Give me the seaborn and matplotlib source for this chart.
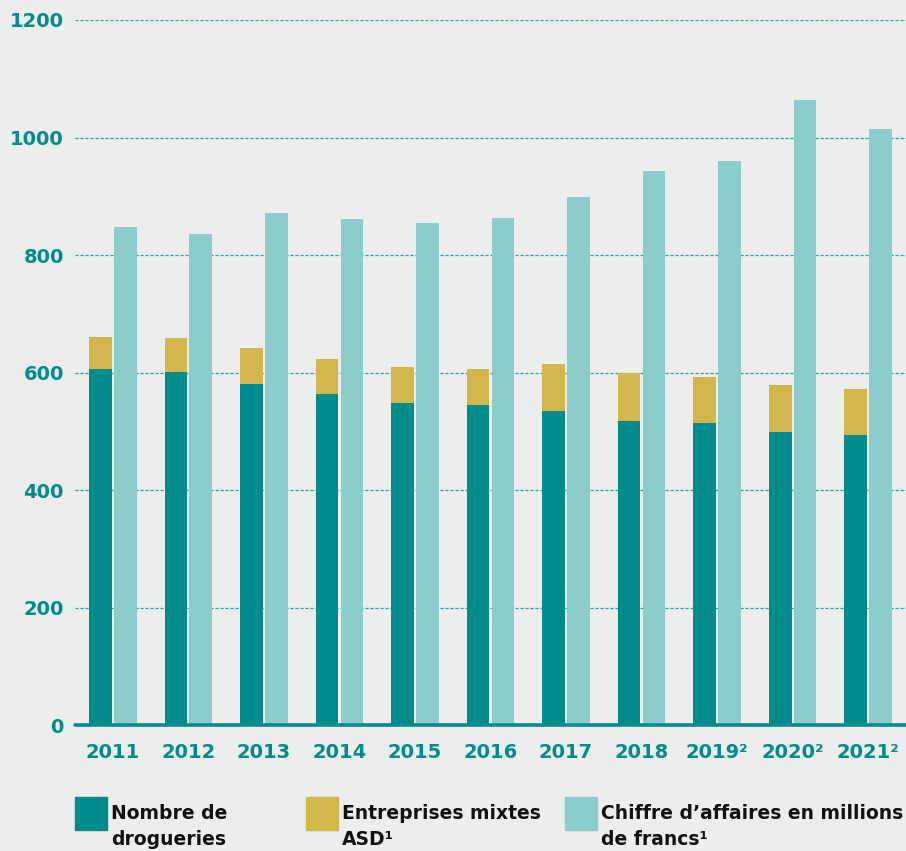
import pandas as pd
import seaborn as sns
import matplotlib.pyplot as plt
from matplotlib.patches import Rectangle

# values
annees = ["2011", "2012", "2013", "2014", "2015", "2016", "2017", "2018",
          "2019²", "2020²", "2021²"]
drogueries = [606, 601, 580, 563, 548, 545, 534, 517, 514, 499, 494]
mixtes_asd = [54, 58, 62, 60, 61, 61, 80, 82, 78, 80, 78]
chiffre_affaires = [848, 836, 871, 861, 854, 863, 899, 943, 960, 1064, 1014]

TEAL = "#008c8d"
JAUNE = "#d4b74b"
CLAIR = "#8bcdcd"
FOND = "#eceded"

totaux = [d + m for d, m in zip(drogueries, mixtes_asd)]

df_haut = pd.DataFrame({
    "annee": annees * 2,
    "serie": ["drog"] * len(annees) + ["ca"] * len(annees),
    "valeur": totaux + chiffre_affaires,
})
df_bas = pd.DataFrame({"annee": annees, "serie": ["drog"] * len(annees), "valeur": drogueries})

sns.set_style("white")
plt.rcParams["font.family"] = ["DejaVu Sans"]

fig = plt.figure(figsize=(9.06, 8.51), dpi=100, facecolor=FOND)
ax = fig.add_axes([0.0828, 0.148, 0.9172, 0.8285])
ax.set_facecolor(FOND)

for y in range(200, 1201, 200):
    ax.axhline(y, color="#2a9fa1", lw=0.9, ls=(0, (2.5, 1.5)), zorder=0)

sns.barplot(data=df_haut, x="annee", y="valeur", hue="serie", hue_order=["drog", "ca"],
            palette={"drog": JAUNE, "ca": CLAIR}, width=0.66, gap=0.09, dodge=True,
            saturation=1, legend=False, ax=ax, zorder=2, errorbar=None, linewidth=0)
sns.barplot(data=df_bas, x="annee", y="valeur", hue="serie", hue_order=["drog", "ca"],
            palette={"drog": TEAL, "ca": CLAIR}, width=0.66, gap=0.09, dodge=True,
            saturation=1, legend=False, ax=ax, zorder=3, errorbar=None, linewidth=0)

ax.axhline(0, color=TEAL, lw=2.6, zorder=4, clip_on=False)
ax.set_xlim(-0.5, len(annees) - 0.5)
ax.set_ylim(0, 1200)
ax.set_yticks(range(0, 1201, 200))
ax.set_xlabel("")
ax.set_ylabel("")
for s in ax.spines.values():
    s.set_visible(False)
ax.tick_params(axis="both", length=0, labelsize=14, labelcolor=TEAL)
ax.tick_params(axis="y", pad=8)
ax.tick_params(axis="x", pad=13)
for lab in ax.get_xticklabels() + ax.get_yticklabels():
    lab.set_fontweight("bold")

# legende
legende = [(75, TEAL, "Nombre de\ndrogueries"),
           (306, JAUNE, "Entreprises mixtes\nASD¹"),
           (565, CLAIR, "Chiffre d’affaires en millions\nde francs¹")]
W, H = 906, 851
for x0, c, txt in legende:
    fig.add_artist(Rectangle((x0 / W, 1 - 830 / H), 32 / W, 33 / H,
                             transform=fig.transFigure, color=c))
    fig.text((x0 + 36) / W, 1 - 804 / H, txt, ha="left", va="top",
             fontsize=13.5, fontweight="bold", color="#111111", linespacing=1.45)

fig.savefig("out.png", dpi=100, facecolor=FOND)
